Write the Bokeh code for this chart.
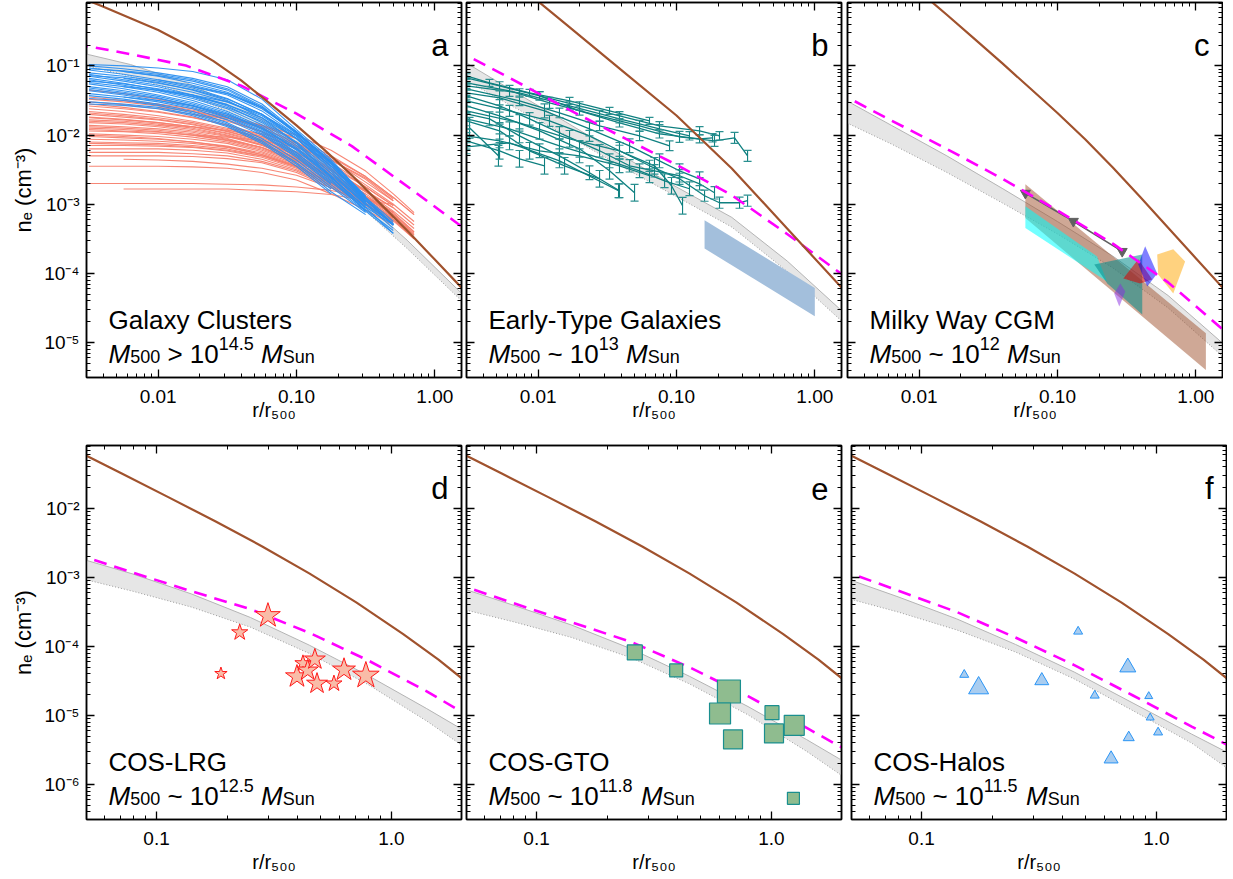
import math
from bokeh.plotting import figure
from bokeh.models import Range1d, LogAxis, FixedTicker, CustomJSTickFormatter, Label
from bokeh.layouts import column, row
from bokeh.embed import file_html
from bokeh.resources import INLINE

FONT = "Liberation Sans"

# ======================= DATA (log10 r/r500 , log10 n_e [cm^-3]) =======================
TOP_LOGR = [-2.6, -2.2, -1.8, -1.4, -1.0, -0.6, -0.2, 0.2]
FINE_TOP_LOGR = [-2.6, -2.4, -2.2, -2.0, -1.8, -1.6, -1.4, -1.2, -1.0, -0.8, -0.6, -0.4, -0.2, 0.0, 0.2]
BOT_LOGR = [-1.35, -1.1, -0.85, -0.6, -0.35, -0.1, 0.15, 0.35]
FINE_BOT_LOGR = [-1.35, -1.15, -0.95, -0.75, -0.55, -0.35, -0.15, 0.05, 0.2, 0.35]

# panel a
brown_a = [0.02, -0.14, -0.31, -0.48, -0.69, -0.93, -1.21, -1.53, -1.86, -2.21, -2.58, -2.98, -3.38, -3.8, -4.22]
dash_a = [-0.68, -0.83, -0.995, -1.285, -1.69, -2.16, -2.74, -3.33]
band_hi_a = [-0.79, -0.98, -1.24, -1.6, -2.05, -2.8, -3.52, -4.30]
band_lo_a = [-0.96, -1.15, -1.4, -1.74, -2.18, -2.92, -3.64, -4.41]
# panel b
brown_b = [0.92, 0.263, -0.397, -1.057, -1.717, -2.483, -3.35, -4.22]
dash_b = [-0.76, -1.18, -1.61, -2.02, -2.43, -2.87, -3.43, -4.02]
band_hi_b = [-0.86, -1.34, -1.81, -2.29, -2.75, -3.19, -3.82, -4.55]
band_lo_b = [-1.12, -1.57, -2.0, -2.45, -2.89, -3.33, -3.97, -4.70]
# panel c
brown_c = [1.1, 0.76, 0.42, 0.08, -0.26, -0.61, -0.96, -1.32, -1.68, -2.06, -2.47, -2.9, -3.34, -3.78, -4.22]
dash_c = [-1.37, -1.79, -2.2, -2.63, -3.09, -3.57, -4.13, -4.82]
band_hi_c = [-1.42, -1.86, -2.3, -2.77, -3.25, -3.75, -4.32, -5.02]
band_lo_c = [-1.75, -2.13, -2.54, -2.98, -3.43, -3.92, -4.5, -5.21]
# bottom row
brown_bot = [-1.145, -1.49, -1.835, -2.185, -2.55, -2.94, -3.36, -3.82, -4.19, -4.6]
dash_d = [-2.65, -2.93, -3.2, -3.46, -3.8, -4.2, -4.65, -5.05]
band_hi_d = [-2.7, -2.95, -3.24, -3.58, -3.98, -4.42, -4.9, -5.3]
band_lo_d = [-2.99, -3.2, -3.43, -3.72, -4.1, -4.55, -5.08, -5.55]
dash_e = [-3.08, -3.37, -3.65, -3.93, -4.3, -4.72, -5.18, -5.56]
band_hi_e = [-3.12, -3.4, -3.69, -4.03, -4.43, -4.87, -5.35, -5.75]
band_lo_e = [-3.43, -3.64, -3.87, -4.16, -4.54, -4.99, -5.52, -5.99]
dash_f = [-2.88, -3.19, -3.5, -3.87, -4.27, -4.71, -5.16, -5.51]
band_hi_f = [-2.98, -3.28, -3.6, -3.97, -4.37, -4.82, -5.27, -5.62]
band_lo_f = [-3.27, -3.5, -3.76, -4.08, -4.47, -4.93, -5.4, -5.88]

# galaxy cluster profiles: grid, then [start index, values...]
CL_LOGR = [-2.5, -2.25, -2.0, -1.75, -1.5, -1.25, -1.0, -0.75, -0.5, -0.3, -0.15]
cool_core = [
    [0, -0.98, -1.0, -1.03, -1.08, -1.2, -1.48, -1.92, -2.35, -2.9, -3.3],
    [0, -1.0, -1.04, -1.1, -1.18, -1.3, -1.55, -1.95, -2.38, -2.92],
    [0, -1.03, -1.08, -1.14, -1.22, -1.35, -1.6, -1.98, -2.4, -2.95, -3.28],
    [0, -1.06, -1.12, -1.2, -1.3, -1.42, -1.65, -2.0, -2.45, -2.95],
    [0, -1.1, -1.15, -1.22, -1.32, -1.47, -1.7, -2.05, -2.48, -2.98, -3.3],
    [0, -1.12, -1.2, -1.28, -1.38, -1.52, -1.72, -2.05, -2.5, -2.96],
    [0, -1.15, -1.22, -1.3, -1.42, -1.56, -1.78, -2.1, -2.52, -3.0, -3.28],
    [0, -1.18, -1.25, -1.34, -1.45, -1.6, -1.8, -2.12, -2.55, -3.02],
    [0, -1.2, -1.28, -1.36, -1.47, -1.62, -1.85, -2.18, -2.58, -3.0, -3.35],
    [0, -1.24, -1.3, -1.38, -1.5, -1.66, -1.88, -2.2, -2.6, -3.05],
    [0, -1.26, -1.33, -1.42, -1.53, -1.68, -1.9, -2.22, -2.62, -3.04, -3.3],
    [0, -1.3, -1.36, -1.44, -1.55, -1.7, -1.92, -2.25, -2.66, -3.06],
    [0, -1.32, -1.38, -1.46, -1.58, -1.74, -1.96, -2.28, -2.68, -3.08, -3.38],
    [0, -1.36, -1.42, -1.5, -1.6, -1.75, -1.98, -2.3, -2.7],
    [0, -1.4, -1.45, -1.52, -1.62, -1.78, -2.0, -2.32, -2.72, -3.1],
    [0, -1.43, -1.48, -1.55, -1.66, -1.82, -2.05, -2.36, -2.75, -3.12],
    [0, -1.47, -1.5, -1.57, -1.68, -1.84, -2.08, -2.4, -2.78],
    [0, -1.52, -1.55, -1.6, -1.7, -1.86, -2.1, -2.42, -2.82, -3.15],
    [0, -1.55, -1.57, -1.62, -1.72, -1.88, -2.12, -2.45, -2.85],
    [1, -1.08, -1.15, -1.25, -1.38, -1.6, -1.95, -2.4, -2.94, -3.3],
    [1, -1.18, -1.25, -1.34, -1.48, -1.7, -2.02, -2.45, -2.96],
    [1, -1.3, -1.35, -1.44, -1.56, -1.75, -2.05, -2.45, -2.9, -3.25],
    [2, -1.2, -1.28, -1.4, -1.62, -1.96, -2.38, -2.9],
    [2, -1.35, -1.42, -1.52, -1.7, -2.0, -2.42, -2.92, -3.3],
    [3, -1.3, -1.4, -1.6, -1.95, -2.38, -2.88],
    [0, -1.14, -1.17, -1.24, -1.35, -1.5, -1.75, -2.12, -2.6, -3.1, -3.42],
    [0, -1.22, -1.26, -1.33, -1.42, -1.58, -1.82, -2.15, -2.55, -2.98],
    [0, -1.34, -1.4, -1.47, -1.57, -1.72, -1.94, -2.26, -2.64, -3.1],
    [1, -1.45, -1.5, -1.58, -1.7, -1.9, -2.2, -2.6, -3.05, -3.42],
    [0, -1.04, -1.07, -1.12, -1.2, -1.33, -1.58, -1.97, -2.42, -2.95, -3.28],
]
non_cool_core = [
    [0, -1.45, -1.5, -1.56, -1.64, -1.75, -1.9, -2.1, -2.4, -2.72, -3.0, -3.25],
    [0, -1.52, -1.56, -1.62, -1.7, -1.8, -1.95, -2.15, -2.45, -2.75, -3.02],
    [0, -1.58, -1.62, -1.67, -1.75, -1.85, -2.0, -2.2, -2.48, -2.8, -3.05, -3.3],
    [0, -1.62, -1.66, -1.72, -1.8, -1.9, -2.04, -2.25, -2.5, -2.8],
    [0, -1.66, -1.7, -1.75, -1.82, -1.92, -2.06, -2.26, -2.52, -2.82, -3.1, -3.35],
    [0, -1.7, -1.74, -1.78, -1.85, -1.95, -2.08, -2.28, -2.55, -2.85, -3.12],
    [0, -1.74, -1.77, -1.82, -1.88, -1.97, -2.1, -2.3, -2.56, -2.86],
    [0, -1.78, -1.8, -1.84, -1.9, -2.0, -2.14, -2.33, -2.58, -2.88, -3.15],
    [0, -1.82, -1.84, -1.88, -1.94, -2.02, -2.15, -2.35, -2.6, -2.9, -3.15, -3.42],
    [0, -1.86, -1.88, -1.91, -1.96, -2.05, -2.18, -2.38, -2.62],
    [0, -1.9, -1.92, -1.95, -2.0, -2.08, -2.2, -2.38, -2.62, -2.9, -3.16, -3.44],
    [0, -1.94, -1.95, -1.98, -2.03, -2.1, -2.22, -2.4, -2.65, -2.94, -3.2],
    [0, -1.98, -2.0, -2.02, -2.06, -2.12, -2.24, -2.42, -2.66, -2.95],
    [0, -2.02, -2.04, -2.06, -2.1, -2.16, -2.26, -2.44, -2.68, -2.96, -3.2],
    [0, -2.06, -2.07, -2.09, -2.12, -2.18, -2.28, -2.45, -2.7, -2.98, -3.22, -3.48],
    [0, -2.1, -2.11, -2.12, -2.15, -2.2, -2.3, -2.46, -2.7],
    [0, -2.15, -2.15, -2.16, -2.18, -2.23, -2.32, -2.48, -2.72, -3.0, -3.25],
    [0, -2.2, -2.2, -2.2, -2.22, -2.26, -2.35, -2.5, -2.72, -3.0, -3.24, -3.5],
    [0, -2.25, -2.25, -2.25, -2.27, -2.3, -2.38, -2.52, -2.74, -3.02],
    [0, -2.3, -2.3, -2.3, -2.31, -2.34, -2.4, -2.54, -2.76, -3.02, -3.27],
    [0, -2.7, -2.7, -2.7, -2.7, -2.71, -2.72, -2.75, -2.8, -2.9],
    [1, -2.78, -2.78, -2.78, -2.78, -2.8, -2.82, -2.86, -2.95, -3.0],
    [2, -1.6, -1.66, -1.75, -1.88, -2.05, -2.3, -2.6, -2.9, -3.15],
    [2, -1.85, -1.88, -1.93, -2.02, -2.16, -2.36, -2.64, -2.95],
    [3, -1.7, -1.76, -1.86, -2.0, -2.22, -2.52, -2.85, -3.12],
    [3, -2.0, -2.03, -2.08, -2.18, -2.36, -2.62, -2.92],
    [4, -1.9, -1.98, -2.12, -2.32, -2.6, -2.9, -3.15],
    [1, -1.5, -1.55, -1.62, -1.72, -1.86, -2.05, -2.35, -2.68, -2.95],
    [0, -1.55, -1.6, -1.66, -1.74, -1.86, -2.02, -2.24, -2.55, -2.88, -3.12, -3.4],
    [0, -1.68, -1.72, -1.77, -1.84, -1.94, -2.08, -2.3, -2.6, -2.92],
    [0, -1.8, -1.82, -1.86, -1.92, -2.01, -2.14, -2.34, -2.62, -2.94, -3.22, -3.5],
    [0, -1.92, -1.94, -1.96, -2.0, -2.07, -2.18, -2.36, -2.6, -2.88, -3.12],
    [0, -2.0, -2.02, -2.05, -2.1, -2.17, -2.28, -2.45, -2.7, -2.97],
    [1, -2.35, -2.36, -2.38, -2.42, -2.48, -2.58, -2.76, -3.0, -3.25],
    [0, -1.48, -1.52, -1.58, -1.66, -1.78, -1.95, -2.2, -2.5, -2.82, -3.05],
    [0, -1.75, -1.78, -1.82, -1.88, -1.98, -2.12, -2.32, -2.6, -2.92, -3.18, -3.45],
    [0, -1.88, -1.9, -1.93, -1.98, -2.06, -2.18, -2.37, -2.62, -2.9, -3.14, -3.4],
    [0, -2.12, -2.13, -2.14, -2.17, -2.22, -2.3, -2.46, -2.68, -2.95],
    [0, -1.35, -1.4, -1.48, -1.58, -1.72, -1.9, -2.12, -2.42, -2.75, -3.02],
    [0, -2.45, -2.45, -2.45, -2.46, -2.48, -2.54, -2.65, -2.85, -3.08, -3.3],
]

# early-type galaxy profiles
etg_logr = [
    [-2.518, -2.279, -1.99, -1.701, -1.412, -1.123, -0.833, -0.739],
    [-2.518, -2.207, -1.918, -1.556, -1.267, -0.978, -0.725, -0.58, -0.486],
    [-2.518, -2.135, -1.846, -1.556, -1.267, -1.05],
    [-2.518, -2.279, -1.954, -1.629, -1.339, -1.123, -0.978, -0.833],
    [-2.518, -2.207, -1.918, -1.629, -1.412, -1.195, -0.978, -0.797, -0.689, -0.544, -0.486],
    [-2.518, -2.279, -1.99, -1.701, -1.484, -1.303],
    [-2.518, -2.352, -2.135, -1.846, -1.629, -1.412],
    [-2.518, -2.279, -2.062, -1.809, -1.556],
    [-2.518, -2.207, -1.846, -1.419],
    [-2.496, -2.287],
    [-2.518, -2.279, -2.062, -1.846, -1.556, -1.339, -1.159, -0.978, -0.833, -0.725],
    [-2.518, -2.135, -1.773, -1.412, -1.123, -0.906],
    [-2.518, -2.135, -1.773, -1.412, -1.159, -1.036, -0.956],
    [-2.518, -2.207, -1.846, -1.484, -1.267, -1.086, -0.906],
    [-1.99, -1.701, -1.412, -1.123, -0.833, -0.689],
    [-2.518, -2.352, -2.062, -1.773, -1.484, -1.195],
    [-2.518, -2.279, -1.99, -1.701, -1.412, -1.195],
    [-2.518, -2.279, -2.135, -1.954],
]
etg_logn = [
    [-1.173, -1.289, -1.433, -1.65, -1.823, -1.982, -2.054, -2.04],
    [-1.245, -1.361, -1.534, -1.722, -1.866, -2.025, -2.083, -2.04, -2.3],
    [-1.332, -1.505, -1.679, -1.866, -2.011, -2.155],
    [-1.39, -1.462, -1.65, -1.91, -2.155, -2.372, -2.516, -2.632],
    [-1.505, -1.65, -1.794, -2.011, -2.227, -2.444, -2.632, -2.877, -2.978, -2.978, -2.949],
    [-1.578, -1.722, -1.939, -2.199, -2.516, -2.834],
    [-1.693, -1.765, -2.011, -2.3, -2.545, -2.805],
    [-1.794, -1.939, -2.227, -2.444, -2.632],
    [-2.17, -2.112, -2.372, -2.805],
    [-1.895, -2.3],
    [-1.433, -1.578, -1.765, -1.968, -2.227, -2.444, -2.516, -2.588, -2.704, -2.834],
    [-1.289, -1.39, -1.578, -1.765, -1.91, -2.011],
    [-1.65, -1.823, -2.054, -2.227, -2.444, -2.733, -3.022],
    [-1.765, -1.91, -2.155, -2.372, -2.516, -2.661, -2.776],
    [-1.433, -1.578, -1.722, -1.866, -1.939, -2.011],
    [-1.144, -1.245, -1.39, -1.505, -1.65, -1.794],
    [-2.011, -2.083, -2.227, -2.3, -2.444, -2.588],
    [-2.083, -2.227, -2.343, -2.444],
]
etg_err = [0.06, 0.08, 0.07, 0.1, 0.08, 0.12, 0.1, 0.12, 0.1, 0.15, 0.09, 0.06, 0.12, 0.1, 0.06, 0.05, 0.1, 0.12]
etg_band_logr = [-0.797, 0.0]
etg_band_hi = [-3.23, -4.21]
etg_band_lo = [-3.64, -4.62]

# Milky Way CGM constraints (polygons)
mw_brown = ([-1.232, 0.073, 0.073, -1.232], [-2.71, -4.865, -5.396, -3.2])
mw_cyan = ([-1.232, -0.714, -0.642, -1.232], [-3.029, -3.754, -4.116, -3.343])
mw_teal = ([-0.734, -0.387, -0.387, -0.64], [-3.87, -3.725, -4.594, -4.145])
mw_purple = ([-0.546, -0.51, -0.553, -0.59], [-4.145, -4.26, -4.478, -4.29])
mw_orange = ([-0.279, -0.163, -0.077, -0.163, -0.272], [-3.725, -3.652, -3.826, -4.29, -4.014])
mw_red = ([-0.524, -0.416, -0.315, -0.402], [-4.072, -3.797, -4.087, -4.145])
mw_blue = ([-0.366, -0.279, -0.351, -0.416], [-3.609, -4.0, -4.188, -3.87])
mw_arrow = ([-1.232, -0.885, -0.532], [-2.84, -3.246, -3.681])

# COS samples (linear r/r500, n_e)
lrg_r = [0.298, 0.226, 0.188, 0.396, 0.42, 0.44, 0.472, 0.482, 0.569, 0.628, 0.778]
lrg_ne = [2.8e-4, 1.6e-4, 4.06e-5, 3.67e-5, 5.7e-5, 4.5e-5, 6.5e-5, 2.9e-5, 2.9e-5, 4.6e-5, 3.8e-5]
gto_r = [0.262, 0.393, 0.659, 0.604, 0.686, 1.005, 1.025, 1.25, 1.24]
gto_ne = [8.2e-5, 4.5e-5, 2.23e-5, 1.07e-5, 4.5e-6, 1.1e-5, 5.5e-6, 7.2e-6, 6.3e-7]
halos_r = [0.464, 0.152, 0.175, 0.325, 0.755, 0.546, 0.927, 0.94, 1.016, 0.762, 0.641]
halos_ne = [1.65e-4, 3.9e-5, 2.5e-5, 3.2e-5, 5.0e-5, 1.95e-5, 1.9e-5, 9.3e-6, 5.7e-6, 4.8e-6, 2.35e-6]

# marker pixel sizes (style)
lrg_px = [26, 17, 13, 24, 17, 22, 22, 22, 17, 24, 28]
gto_px = [15, 13, 23, 21, 19, 14, 19, 20, 12]
halos_px = [9, 9, 20, 14, 16, 9, 8, 8, 9, 11, 14]

# texts / ticks
TITLES = ["Galaxy Clusters", "Early-Type Galaxies", "Milky Way CGM", "COS-LRG", "COS-GTO", "COS-Halos"]
RELS = [">", "~", "~", "~", "~", "~"]
EXPS = ["14.5", "13", "12", "12.5", "11.8", "11.5"]
LETTERS = ["a", "b", "c", "d", "e", "f"]
X_TICKS_TOP = [0.01, 0.1, 1.0]
X_TICKS_BOT = [0.1, 1.0]
X_TITLE = "r/r\u2085\u2080\u2080"
Y_TITLE = "n\u2091 (cm\u207b\u00b3)"

# ======================= helpers =======================
X_TOP = (10 ** -2.518, 10 ** 0.193)
X_BOT = (10 ** -1.298, 10 ** 0.298)
Y_TOP = (10 ** -5.505, 10 ** -0.083)
Y_BOT = (10 ** -6.507, 10 ** -1.087)
FW = 375

HELV = {' ': 278, '(': 333, ')': 333, '-': 333, '.': 278, '/': 278, '>': 584, '~': 584,
        'M': 833, 'S': 667, 'c': 500, 'e': 556, 'm': 833, 'n': 556, 'r': 333, 'u': 556}

SUP_JS = """
const m = {'-':'\u207b','0':'\u2070','1':'\u00b9','2':'\u00b2','3':'\u00b3','4':'\u2074',
           '5':'\u2075','6':'\u2076','7':'\u2077','8':'\u2078','9':'\u2079'};
const e = Math.round(Math.log10(tick));
return '10' + String(e).split('').map(c => m[c]).join('');
"""


def tw(s, size):
    return sum(HELV.get(c, 556) for c in s) * size / 1000.0


def pw(vals):
    return [10.0 ** v for v in vals]


def minors(exps):
    return [k * 10.0 ** e for e in exps for k in range(2, 10)]


def style_axis(ax, ticker, formatter, size, standoff):
    ax.ticker = ticker
    ax.formatter = formatter
    ax.major_tick_in = 8
    ax.major_tick_out = 0
    ax.minor_tick_in = 4
    ax.minor_tick_out = 0
    ax.axis_line_color = "black"
    ax.axis_line_width = 1.5
    ax.major_tick_line_color = "black"
    ax.major_tick_line_width = 1.3
    ax.minor_tick_line_color = "black"
    ax.minor_tick_line_width = 1
    ax.major_label_standoff = standoff
    ax.major_label_text_font = FONT
    ax.major_label_text_font_size = size
    ax.major_label_text_color = "black"
    ax.axis_label_text_font = FONT
    ax.axis_label_text_font_style = "normal"
    ax.axis_label_text_color = "black"


def empty_fmt():
    return CustomJSTickFormatter(code="return '';")


def add_run(p, xa, ya, x0, y0, pieces):
    pos = 0.0
    for txt, size, style, dy in pieces:
        if txt.strip():
            p.add_layout(Label(x=xa, y=ya, x_offset=x0 + pos, y_offset=y0 + dy, text=txt,
                               text_font=FONT, text_font_size=f"{size}px", text_font_style=style,
                               text_align="left", text_baseline="alphabetic", text_color="black"))
        pos += tw(txt, size)


def new_panel(idx, bl, br, bt, bb):
    top = idx < 3
    xr = X_TOP if top else X_BOT
    yr = Y_TOP if top else Y_BOT
    fh = 375 if top else 374
    p = figure(x_axis_type="log", y_axis_type="log", x_range=Range1d(*xr), y_range=Range1d(*yr),
               frame_width=FW, frame_height=fh, min_border_left=bl, min_border_right=br,
               min_border_top=bt, min_border_bottom=bb, toolbar_location=None, output_backend="svg",
               background_fill_color="white", border_fill_color="white",
               outline_line_color="black", outline_line_width=1.5)
    p.xgrid.visible = False
    p.ygrid.visible = False
    xt = X_TICKS_TOP if top else X_TICKS_BOT
    xm = minors([-3, -2, -1, 0])
    yt = [10.0 ** e for e in range(-8, 2)]
    ym = minors(range(-8, 1))
    fmt = CustomJSTickFormatter(code="return tick.toFixed(%d);" % (2 if top else 1))
    xa = p.xaxis[0]
    style_axis(xa, FixedTicker(ticks=xt, minor_ticks=xm), fmt, "19px", 12)
    xa.axis_label = X_TITLE
    xa.axis_label_text_font_size = "20px"
    xa.axis_label_standoff = -7 if top else 3
    ya = p.yaxis[0]
    if idx in (0, 3):
        style_axis(ya, FixedTicker(ticks=yt, minor_ticks=ym), CustomJSTickFormatter(code=SUP_JS), "19px", 7)
        ya.axis_label = Y_TITLE
        ya.axis_label_text_font_size = "22px"
        ya.axis_label_standoff = 5
    else:
        style_axis(ya, FixedTicker(ticks=yt, minor_ticks=ym), empty_fmt(), "0px", 0)
    ax_top = LogAxis()
    style_axis(ax_top, FixedTicker(ticks=xt, minor_ticks=xm), empty_fmt(), "0px", 0)
    p.add_layout(ax_top, "above")
    ax_r = LogAxis()
    style_axis(ax_r, FixedTicker(ticks=yt, minor_ticks=ym), empty_fmt(), "0px", 0)
    p.add_layout(ax_r, "right")

    # in-frame texts
    add_run(p, xr[0], yr[0], 22, 58, [(TITLES[idx], 26, "normal", 0)])
    add_run(p, xr[0], yr[0], 22, 24, [("M", 26, "italic", 0), ("500", 18, "normal", -3), (" ", 26, "normal", 0),
                                     (RELS[idx], 26, "normal", 0), (" ", 26, "normal", 0), ("10", 26, "normal", 0),
                                     (EXPS[idx], 18, "normal", 10), (" ", 26, "normal", 0),
                                     ("M", 26, "italic", 0), ("Sun", 18, "normal", -3)])
    p.add_layout(Label(x=xr[1], y=yr[1], x_offset=-13, y_offset=-43, text=LETTERS[idx], text_font=FONT,
                       text_font_size="31px", text_align="right", text_baseline="alphabetic", text_color="black"))
    return p


def draw_band(p, logr, band_hi, band_lo):
    r = pw(logr)
    p.varea(x=r, y1=pw(band_lo), y2=pw(band_hi), fill_color="#e6e6e6")
    p.line(r, pw(band_hi), line_color="#b4b4b4", line_width=1)
    p.line(r, pw(band_lo), line_color="#9a9a9a", line_width=1, line_dash="1 2")


def draw_top_lines(p, logr, dash, brown_logr, brown):
    p.line(pw(logr), pw(dash), line_color="#ff00ff", line_width=2.6, line_dash="13 8")
    p.line(pw(brown_logr), pw(brown), line_color="#a0522d", line_width=2.2)


def prof(entry):
    s = entry[0]
    vals = entry[1:]
    n = min(len(vals), len(CL_LOGR) - s)
    return pw(CL_LOGR[s:s + n]), pw(vals[:n])


# ======================= panels =======================
pa = new_panel(0, 86, 2, 2, 63)
draw_band(pa, TOP_LOGR, band_hi_a, band_lo_a)
xs, ys = zip(*[prof(e) for e in non_cool_core])
pa.multi_line(list(xs), list(ys), line_color="#f7806e", line_width=1.1, line_alpha=0.95)
xs, ys = zip(*[prof(e) for e in cool_core])
pa.multi_line(list(xs), list(ys), line_color="#2b8ff0", line_width=1.1, line_alpha=0.95)
draw_top_lines(pa, TOP_LOGR, dash_a, FINE_TOP_LOGR, brown_a)

pb = new_panel(1, 3, 3, 2, 63)
draw_band(pb, TOP_LOGR, band_hi_b, band_lo_b)
pb.varea(x=pw(etg_band_logr), y1=pw(etg_band_lo), y2=pw(etg_band_hi), fill_color="#a3bfdc")
pb.multi_line([pw(a) for a in etg_logr], [pw(a) for a in etg_logn], line_color="#0f8080", line_width=1.3)
ex, elo, ehi = [], [], []
for lr, ln, e in zip(etg_logr, etg_logn, etg_err):
    for a, b in zip(lr, ln):
        ex.append(10.0 ** a)
        elo.append(10.0 ** (b - e))
        ehi.append(10.0 ** (b + e))
pb.segment(x0=ex, y0=elo, x1=ex, y1=ehi, line_color="#0f8080", line_width=1.1)
pb.scatter(ex, elo, marker="dash", size=8, line_color="#2a9090", line_width=1.2)
pb.scatter(ex, ehi, marker="dash", size=8, line_color="#2a9090", line_width=1.2)
draw_top_lines(pb, TOP_LOGR, dash_b, TOP_LOGR, brown_b)

pc = new_panel(2, 3, 1, 2, 63)
draw_band(pc, TOP_LOGR, band_hi_c, band_lo_c)
for poly, col, alpha in [(mw_brown, "#a0522d", 0.5), (mw_cyan, "#00ffff", 0.55), (mw_teal, "#008b8b", 0.55)]:
    pc.patch(pw(poly[0]), pw(poly[1]), fill_color=col, fill_alpha=alpha, line_color=None)
pc.line(pw(mw_arrow[0]), pw(mw_arrow[1]), line_color="#606060", line_width=1.5)
pc.scatter(pw(mw_arrow[0]), pw(mw_arrow[1]), marker="inverted_triangle", size=10, color="#606060")
for poly, col, alpha in [(mw_purple, "#8a2be2", 0.5), (mw_orange, "#ffa500", 0.5),
                         (mw_red, "#e00000", 0.55), (mw_blue, "#0000ff", 0.5)]:
    pc.patch(pw(poly[0]), pw(poly[1]), fill_color=col, fill_alpha=alpha, line_color=None)
draw_top_lines(pc, TOP_LOGR, dash_c, FINE_TOP_LOGR, brown_c)

pd = new_panel(3, 86, 2, 5, 58)
draw_band(pd, BOT_LOGR, band_hi_d, band_lo_d)
draw_top_lines(pd, BOT_LOGR, dash_d, FINE_BOT_LOGR, brown_bot)
pd.scatter(lrg_r, lrg_ne, marker="star", size=lrg_px, fill_color="#f9bca8", line_color="#ff1a1a", line_width=1)

pe = new_panel(4, 3, 5, 5, 58)
draw_band(pe, BOT_LOGR, band_hi_e, band_lo_e)
draw_top_lines(pe, BOT_LOGR, dash_e, FINE_BOT_LOGR, brown_bot)
pe.scatter(gto_r, gto_ne, marker="square", size=gto_px, fill_color="#8fbc8f", line_color="#1a8f8f", line_width=1.2)

pf = new_panel(5, 5, 1, 5, 58)
draw_band(pf, BOT_LOGR, band_hi_f, band_lo_f)
draw_top_lines(pf, BOT_LOGR, dash_f, FINE_BOT_LOGR, brown_bot)
pf.scatter(halos_r, halos_ne, marker="triangle", size=halos_px, fill_color="#a9cdf0", line_color="#2b95f5", line_width=1)

layout = column(row(pa, pb, pc), row(pd, pe, pf))
open("out.html", "w").write(file_html(layout, INLINE))
